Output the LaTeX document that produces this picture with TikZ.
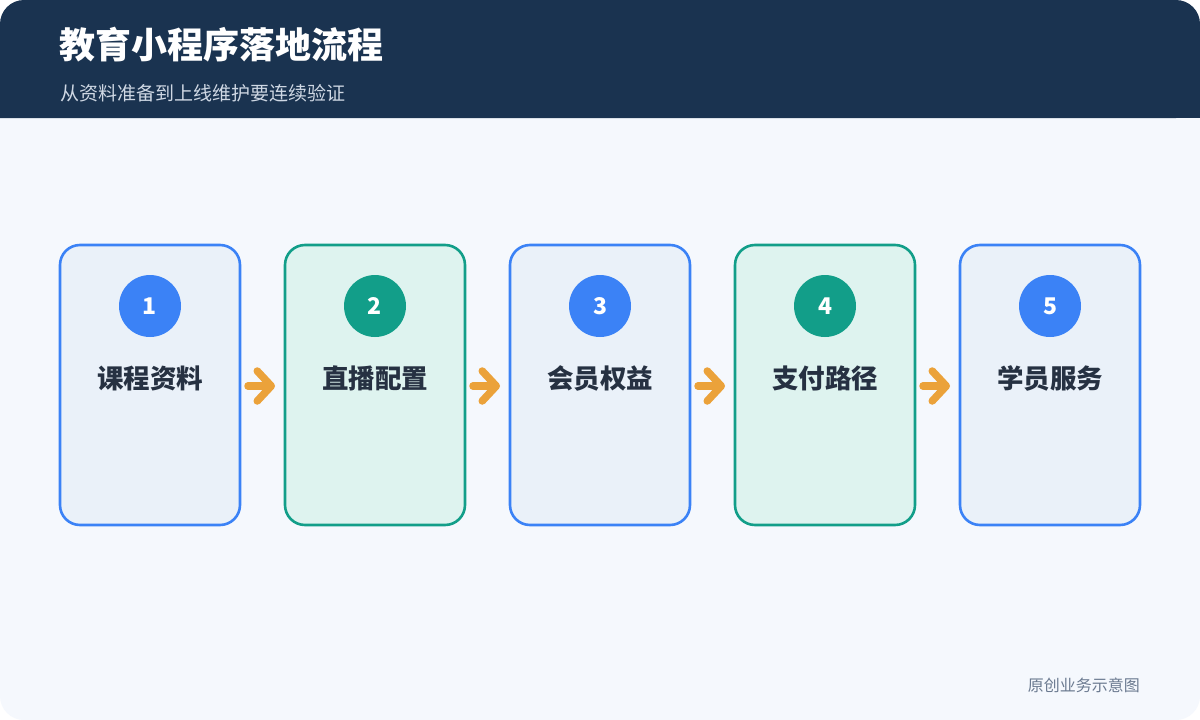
\documentclass[tikz,border=0pt]{standalone}
\usepackage{fontspec}
\setmainfont{Noto Sans CJK SC}
\usepackage{xcolor}
\usetikzlibrary{positioning, arrows.meta}

\definecolor{headbg}{HTML}{1A3350}
\definecolor{pagebg}{HTML}{F5F8FD}
\definecolor{stepblue}{HTML}{3B82F6}
\definecolor{fillblue}{HTML}{EAF1F9}
\definecolor{stepgreen}{HTML}{129E89}
\definecolor{fillgreen}{HTML}{DEF3EF}
\definecolor{flowor}{HTML}{EBA23A}
\definecolor{labeltext}{HTML}{263142}
\definecolor{subtext}{HTML}{CFD8E4}
\definecolor{notetext}{HTML}{6B7A90}

\begin{document}
\begin{tikzpicture}[x=1pt, y=-1pt]
    % Styles
    \tikzstyle{stage} = [rectangle, draw, line width=2.6pt, outer sep=0pt, minimum width=180pt, minimum height=280pt, rounded corners=20pt]
    \tikzstyle{bluestage} = [stage, draw=stepblue, fill=fillblue]
    \tikzstyle{greenstage} = [stage, draw=stepgreen, fill=fillgreen]
    \tikzstyle{badge} = [circle, minimum size=62pt, inner sep=0pt, text=white, font=\fontsize{23}{26}\selectfont\bfseries]
    \tikzstyle{caption} = [text=labeltext, font=\fontsize{26.5}{30}\selectfont\bfseries]
    \tikzstyle{flow} = [draw=flowor, line width=7.5pt, line cap=round, shorten <=8pt, shorten >=10pt, -{Straight Barb[length=14pt, width=30pt, round]}]

    % --- CANVAS ---
    \useasboundingbox (0,0) rectangle (1200,720);
    \fill[white] (0,0) rectangle (1200,720);
    \fill[pagebg, rounded corners=24pt] (0,0) rectangle (1200,720);
    \fill[headbg, rounded corners=24pt] (0,118) -- (0,0) -- (1200,0) -- (1200,118) [sharp corners] -- cycle;
    \fill[headbg] (0,60) rectangle (1200,118);

    % --- HEADER ---
    \node[anchor=west, text=white, font=\fontsize{36}{40}\selectfont\bfseries, inner sep=0pt] (title) at (59,45) {教育小程序落地流程};
    \node[anchor=west, text=subtext, font=\fontsize{19}{22}\selectfont, inner sep=0pt] (subtitle) at (60,93) {从资料准备到上线维护要连续验证};

    % --- STAGES ---
    \node [bluestage] (course) at (150,385) {};
    \node [greenstage, right=45pt of course] (live) {};
    \node [bluestage, right=45pt of live] (member) {};
    \node [greenstage, right=45pt of member] (pay) {};
    \node [bluestage, right=45pt of pay] (service) {};

    % --- BADGES & CAPTIONS ---
    \node [badge, fill=stepblue, below=30pt of course.north, anchor=center, yshift=-31pt] (n1) {1};
    \node [badge, fill=stepgreen, below=30pt of live.north, anchor=center, yshift=-31pt] (n2) {2};
    \node [badge, fill=stepblue, below=30pt of member.north, anchor=center, yshift=-31pt] (n3) {3};
    \node [badge, fill=stepgreen, below=30pt of pay.north, anchor=center, yshift=-31pt] (n4) {4};
    \node [badge, fill=stepblue, below=30pt of service.north, anchor=center, yshift=-31pt] (n5) {5};

    \node [caption, below=72pt of n1.center, anchor=center] {课程资料};
    \node [caption, below=72pt of n2.center, anchor=center] {直播配置};
    \node [caption, below=72pt of n3.center, anchor=center] {会员权益};
    \node [caption, below=72pt of n4.center, anchor=center] {支付路径};
    \node [caption, below=72pt of n5.center, anchor=center] {学员服务};

    % --- CONNECTIONS ---
    \path [flow] ([yshift=-1pt]course.east) -- ([yshift=-1pt]live.west);
    \path [flow] ([yshift=-1pt]live.east) -- ([yshift=-1pt]member.west);
    \path [flow] ([yshift=-1pt]member.east) -- ([yshift=-1pt]pay.west);
    \path [flow] ([yshift=-1pt]pay.east) -- ([yshift=-1pt]service.west);

    % --- FOOTNOTE ---
    \node[anchor=east, text=notetext, font=\fontsize{16}{18}\selectfont, inner sep=0pt] (note) at (1140,685) {原创业务示意图};
\end{tikzpicture}
\end{document}
